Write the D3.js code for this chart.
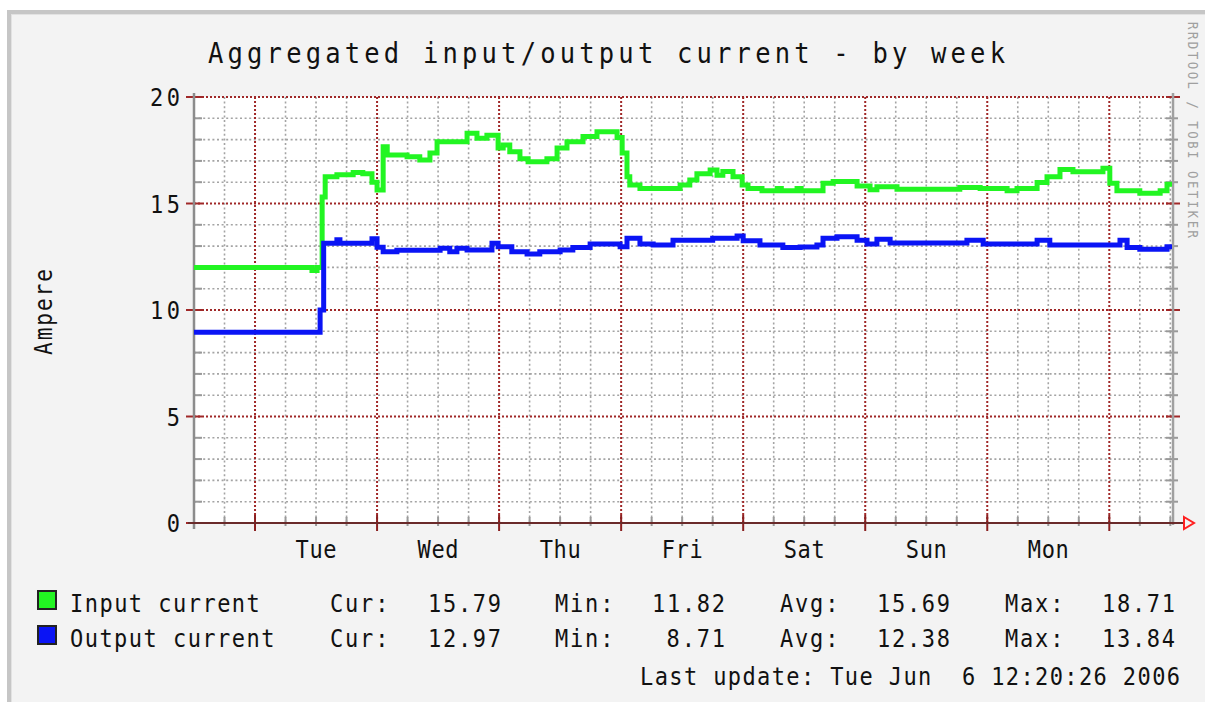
<!DOCTYPE html>
<html><head><meta charset="utf-8">
<script src="https://cdn.jsdelivr.net/npm/d3@7"></script>
<style>html,body{margin:0;padding:0;background:#fff;} svg{display:block}</style>
</head><body>
<svg id="c" width="1205" height="702"></svg>
<script>
// ---------- data (hours since Mon 2006-05-29 00:00, step values) ----------
const inputHours = [12, 35.2, 36.2, 37.2, 37.8, 40.1, 43.3, 45.2, 47.0, 48.0, 49.2, 50.0, 53.9, 56.4, 58.4, 59.8, 65.7, 67.65, 69.6, 71.8, 72.8, 74.1, 76.1, 77.7, 81.4, 83.4, 85.35, 88.5, 91.25, 95.2, 96.2, 97.15, 97.7, 99.7, 107.6, 109.5, 110.9, 113.5, 114.85, 116.0, 118.0, 119.8, 120.95, 123.7, 126.7, 127.5, 130.6, 131.4, 135.7, 137.7, 142.4, 144.95, 146.3, 150.25, 162.6, 166.6, 171.9, 173.85, 177.8, 179.75, 182.3, 184.85, 190.75, 192.1, 193.5, 198.0, 202.0, 203.35];
const inputValues = [12.0, 11.85, 12.0, 15.3, 16.26, 16.35, 16.45, 16.4, 16.0, 15.63, 17.67, 17.28, 17.2, 17.04, 17.37, 17.9, 18.3, 18.06, 18.2, 17.6, 17.75, 17.43, 17.1, 16.96, 17.1, 17.6, 17.9, 18.14, 18.37, 18.1, 17.37, 16.26, 15.87, 15.71, 15.87, 16.1, 16.4, 16.57, 16.33, 16.5, 16.26, 15.87, 15.71, 15.6, 15.7, 15.6, 15.7, 15.6, 15.95, 16.03, 15.82, 15.65, 15.79, 15.67, 15.75, 15.71, 15.6, 15.71, 15.99, 16.26, 16.6, 16.49, 16.65, 15.95, 15.6, 15.48, 15.6, 15.9];
const outputHours = [12, 36.8, 37.5, 40.1, 40.7, 47.0, 48.0, 49.2, 51.9, 60.4, 62.3, 63.7, 65.7, 70.6, 71.8, 74.5, 77.5, 80.0, 84.0, 86.5, 89.9, 95.8, 97.15, 99.7, 102.3, 106.2, 114.0, 118.8, 120.0, 123.3, 127.8, 131.2, 134.5, 135.7, 138.45, 142.4, 144.35, 146.3, 148.9, 164.0, 167.2, 177.8, 180.3, 194.1, 195.5, 198.0, 203.35];
const outputValues = [8.95, 10.0, 13.13, 13.3, 13.13, 13.35, 12.95, 12.74, 12.8, 12.9, 12.74, 12.9, 12.82, 13.13, 12.97, 12.74, 12.63, 12.74, 12.82, 12.94, 13.1, 12.97, 13.37, 13.1, 13.05, 13.28, 13.37, 13.47, 13.25, 13.05, 12.93, 12.96, 13.05, 13.37, 13.44, 13.28, 13.1, 13.32, 13.15, 13.28, 13.1, 13.28, 13.05, 13.28, 12.94, 12.85, 12.97];
const endHour = 204.33;
const dayLabels = ["Tue", "Wed", "Thu", "Fri", "Sat", "Sun", "Mon"];
const yTickValues = [0, 5, 10, 15, 20];
const seriesNames = ["Input current", "Output current"];
const seriesColors = ["#22f522", "#0a14f5"];
const curValues = ["15.79", "12.97"];
const minValues = ["11.82", "8.71"];
const avgValues = ["15.69", "12.38"];
const maxValues = ["18.71", "13.84"];
const titleText = "Aggregated input/output current - by week";
const lastUpdate = "Last update: Tue Jun  6 12:20:26 2006";

// ---------- setup ----------
const base = new Date(2006, 4, 29, 0, 0, 0).getTime();
const toDate = h => new Date(base + h * 3600e3);
const svg = d3.select("#c");
const FONT = "DejaVu Sans Mono";
const SX = 0.88;
const L = 194, R = 1172, T = 97, B = 523;
const x = d3.scaleTime().domain([toDate(12), toDate(endHour)]).range([L, R]);
const y = d3.scaleLinear().domain([0, 20]).range([B, T]);

// frame
svg.append("rect").attr("x", 0).attr("y", 0).attr("width", 1205).attr("height", 702).attr("fill", "#fff");
svg.append("rect").attr("x", 7).attr("y", 10).attr("width", 1220).attr("height", 720).attr("fill", "#c6c6c6");
svg.append("rect").attr("x", 11).attr("y", 14).attr("width", 1220).attr("height", 720).attr("fill", "#e2e2e2");
svg.append("rect").attr("x", 12).attr("y", 15).attr("width", 1220).attr("height", 720).attr("fill", "#f3f3f3");
// canvas
svg.append("rect").attr("x", L).attr("y", T).attr("width", R - L).attr("height", B - T).attr("fill", "#fff");

function txt(xp, yp, s, size, len, anchor, fill, rot) {
  const gg = svg.append("g").attr("transform", `translate(${xp},${yp})${rot ? ` rotate(${rot})` : ""} scale(${SX},1)`);
  const t = gg.append("text").attr("x", 0).attr("y", 0).text(s)
    .attr("font-family", FONT).attr("font-size", size).attr("fill", fill || "#111")
    .attr("text-anchor", anchor || "start").style("white-space", "pre");
  if (len) t.attr("textLength", len / SX).attr("lengthAdjust", "spacing");
  return t;
}

// ---------- grid ----------
const g = svg.append("g");
const minorH = d3.range(1, 20).filter(v => v % 5 !== 0);
const hourTicks = d3.range(18, endHour, 6).map(toDate);
const minorV = hourTicks.filter(d => (d.getTime() - base) / 3600e3 % 24 !== 0);
const majorV = d3.range(24, endHour, 24).map(toDate);

g.selectAll(".mh").data(minorH).join("line")
  .attr("x1", L).attr("x2", R).attr("y1", d => y(d)).attr("y2", d => y(d))
  .attr("stroke", "#a4a4a4").attr("stroke-width", 1.6).attr("stroke-dasharray", "2,2.6");
g.selectAll(".mv").data(minorV).join("line")
  .attr("x1", d => x(d)).attr("x2", d => x(d)).attr("y1", T).attr("y2", B)
  .attr("stroke", "#a4a4a4").attr("stroke-width", 1.6).attr("stroke-dasharray", "2,2.6");
g.selectAll(".MH").data(yTickValues).join("line")
  .attr("x1", L).attr("x2", R).attr("y1", d => y(d)).attr("y2", d => y(d))
  .attr("stroke", "#a02828").attr("stroke-width", 2).attr("stroke-dasharray", "2,2");
g.selectAll(".MV").data(majorV).join("line")
  .attr("x1", d => x(d)).attr("x2", d => x(d)).attr("y1", T).attr("y2", B)
  .attr("stroke", "#a02828").attr("stroke-width", 2).attr("stroke-dasharray", "2,2");

// tick marks
g.selectAll(".tl").data(minorH).join("line")
  .attr("x1", L).attr("x2", L + 8).attr("y1", d => y(d)).attr("y2", d => y(d))
  .attr("stroke", "#999").attr("stroke-width", 2);
g.selectAll(".tr").data(minorH).join("line")
  .attr("x1", R - 6).attr("x2", R + 6).attr("y1", d => y(d)).attr("y2", d => y(d))
  .attr("stroke", "#999").attr("stroke-width", 2);
g.selectAll(".TL").data(yTickValues).join("line")
  .attr("x1", L - 8).attr("x2", L + 8).attr("y1", d => y(d)).attr("y2", d => y(d))
  .attr("stroke", "#a02828").attr("stroke-width", 2);
g.selectAll(".TR").data(yTickValues).join("line")
  .attr("x1", R - 6).attr("x2", R + 8).attr("y1", d => y(d)).attr("y2", d => y(d))
  .attr("stroke", "#a02828").attr("stroke-width", 2);
g.selectAll(".tb").data(minorV).join("line")
  .attr("x1", d => x(d)).attr("x2", d => x(d)).attr("y1", B - 6).attr("y2", B + 3)
  .attr("stroke", "#999").attr("stroke-width", 2);
g.selectAll(".TB").data(majorV).join("line")
  .attr("x1", d => x(d)).attr("x2", d => x(d)).attr("y1", B - 8).attr("y2", B + 8)
  .attr("stroke", "#8a2020").attr("stroke-width", 2);

// axes lines
svg.append("line").attr("x1", L).attr("x2", L).attr("y1", T - 4).attr("y2", B + 6).attr("stroke", "#8c8c8c").attr("stroke-width", 2.5);
svg.append("line").attr("x1", R + 1).attr("x2", R + 1).attr("y1", T - 4).attr("y2", B + 2).attr("stroke", "#a0a0a0").attr("stroke-width", 2.5);
svg.append("line").attr("x1", L - 6).attr("x2", R + 12).attr("y1", B).attr("y2", B).attr("stroke", "#6a2a2a").attr("stroke-width", 2);
svg.append("path").attr("d", `M${R + 12},${B - 6} L${R + 22},${B} L${R + 12},${B + 6} Z`)
  .attr("fill", "none").attr("stroke", "#ff2020").attr("stroke-width", 2);

// ---------- series ----------
function stepData(hours, values) {
  const d = hours.map((h, i) => ({ t: toDate(h), v: values[i] }));
  d.push({ t: toDate(endHour), v: values[values.length - 1] });
  return d;
}
const line = d3.line().x(d => x(d.t)).y(d => y(d.v)).curve(d3.curveStepAfter);
svg.append("path").datum(stepData(inputHours, inputValues)).attr("d", line)
  .attr("fill", "none").attr("stroke", seriesColors[0]).attr("stroke-width", 5);
svg.append("path").datum(stepData(outputHours, outputValues)).attr("d", line)
  .attr("fill", "none").attr("stroke", seriesColors[1]).attr("stroke-width", 5);

// ---------- labels ----------
txt(208, 63, titleText, 29, 797);
yTickValues.forEach(v => txt(180, y(v) + 9, String(v), 25, String(v).length * 15, "end"));
dayLabels.forEach((s, i) => {
  const d = toDate(36 + 24 * i);
  txt(x(d), 558, s, 25, 41, "middle");
});
txt(52, 312, "Ampere", 24, 86, "middle", "#111", -90);
txt(1188, 22, "RRDTOOL / TOBI OETIKER", 14, 216, "start", "#a0a0a0", 90);

// ---------- legend ----------
const cw = 14.6;
[0, 1].forEach(i => {
  const by = 612 + i * 35;
  svg.append("rect").attr("x", 38).attr("y", by - 21).attr("width", 18).attr("height", 18)
    .attr("fill", seriesColors[i]).attr("stroke", "#222").attr("stroke-width", 2);
  txt(70, by, seriesNames[i], 25, seriesNames[i].length * cw);
  txt(330, by, "Cur:", 25, 4 * cw);
  txt(501, by, curValues[i], 25, curValues[i].length * cw, "end");
  txt(555, by, "Min:", 25, 4 * cw);
  txt(725, by, minValues[i], 25, minValues[i].length * cw, "end");
  txt(780, by, "Avg:", 25, 4 * cw);
  txt(950, by, avgValues[i], 25, avgValues[i].length * cw, "end");
  txt(1005, by, "Max:", 25, 4 * cw);
  txt(1175, by, maxValues[i], 25, maxValues[i].length * cw, "end");
});
txt(640, 685, lastUpdate, 25, 540);
</script></body></html>
